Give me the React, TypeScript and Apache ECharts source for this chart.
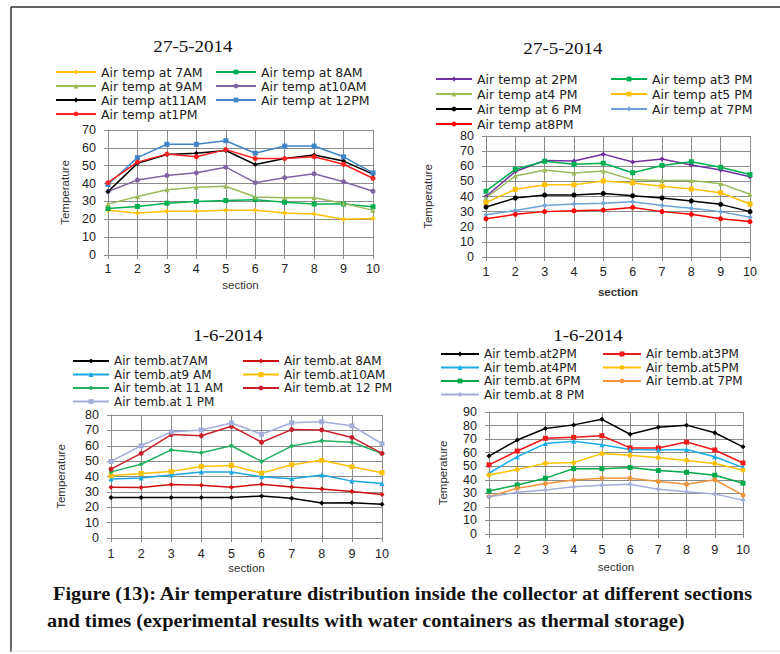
import React, { useEffect, useRef } from "react";
import * as echarts from "echarts";

const sections = ["1", "2", "3", "4", "5", "6", "7", "8", "9", "10"];

// 27-5-2014 morning
const m27_7am = [25, 23.5, 24.5, 24.5, 25, 25, 23.5, 23, 20, 20.5];
const m27_8am = [26, 27.2, 29, 30, 30.5, 31, 29.5, 28.5, 28.5, 27];
const m27_9am = [28.5, 32.8, 36.5, 38, 38.5, 32.5, 32, 32, 29, 25];
const m27_10am = [35.5, 42, 44.5, 46, 49.2, 40.5, 43.3, 45.5, 41, 35.7];
const m27_11am = [35.5, 51.3, 56.3, 57, 58.5, 50.7, 54, 56, 52.6, 45.3];
const m27_12pm = [39.5, 54.5, 62, 62, 64, 57, 61, 61, 55, 46];
const m27_1pm = [40.5, 52, 56.5, 55, 59, 54, 54, 55, 50.8, 43];

// 27-5-2014 afternoon
const a27_2pm = [40, 56.5, 63.8, 63.5, 68, 62.8, 64.8, 60.8, 57.5, 53];
const a27_3pm = [43.5, 58, 63.3, 61.3, 62, 55.7, 60.5, 63, 59.3, 54.5];
const a27_4pm = [39, 53.5, 57.5, 55.5, 56.8, 51, 50.5, 50.5, 48.5, 41.5];
const a27_5pm = [36, 44.7, 47.8, 47.8, 50.3, 49, 46.8, 45, 42.5, 35];
const a27_6pm = [33, 39, 41, 41, 42, 40.5, 39, 37, 34.8, 30];
const a27_7pm = [28, 30.7, 34, 35, 35.5, 36.5, 34, 32.3, 30, 26.3];
const a27_8pm = [25.3, 28.2, 30, 30.6, 31, 32.8, 30, 28.2, 25.3, 23.4];

// 1-6-2014 morning
const m01_7am = [26.3, 26.3, 26.3, 26.3, 26.3, 27.3, 25.8, 22.8, 22.9, 22];
const m01_8am = [33, 32.8, 34.8, 34.3, 33, 35, 33.2, 31.8, 30.3, 28.3];
const m01_9am = [38.3, 39, 41, 43, 43, 39.8, 38.5, 41, 37, 35.5];
const m01_10am = [40.5, 42, 43.2, 46.5, 47.2, 42.2, 47.7, 50.5, 46.3, 42.5];
const m01_11am = [43, 48, 57.3, 55.5, 60, 49.8, 59.8, 63.3, 62.3, 55];
const m01_12pm = [44.8, 55, 67.3, 66.5, 72.7, 62.3, 70.5, 70.3, 65.4, 55];
const m01_1pm = [49.8, 60, 69, 70.3, 74.8, 67.5, 75, 75.6, 73, 61.3];

// 1-6-2014 afternoon
const a01_2pm = [57.5, 69.3, 77.8, 80.5, 84.6, 73.6, 78.8, 80.3, 74.7, 64.3];
const a01_3pm = [51, 61.2, 70.6, 71.3, 72.5, 63.5, 63.5, 67.8, 62, 52.4];
const a01_4pm = [44.8, 57, 66.7, 68.4, 65.9, 62.4, 62, 62.4, 57, 49];
const a01_5pm = [43.5, 47.5, 52.2, 52.7, 59.3, 58.1, 56.3, 54.3, 52, 47.1];
const a01_6pm = [31.7, 36.2, 41.2, 48.2, 48.2, 49, 46.8, 45.5, 43.4, 37.5];
const a01_7pm = [27.6, 33.7, 37.2, 39.8, 41.2, 41.2, 38.7, 36.7, 40, 28.7];
const a01_8pm = [27.5, 30.8, 32.4, 34.8, 36, 36.7, 33, 31.2, 29.5, 25];

const titles = ["27-5-2014", "27-5-2014", "1-6-2014", "1-6-2014"];
const yMaxes = [70, 80, 80, 90];
const captionLines = [
  "Figure (13): Air temperature distribution inside the collector at different sections",
  "and times (experimental results with water containers as thermal storage)",
];

type S = { name: string; data: number[]; color: string; symbol: string; col: number };

const chartSeries: S[][] = [
  [
    { name: "Air temp at 7AM", data: m27_7am, color: "#FFC000", symbol: "diamond", col: 0 },
    { name: "Air temp at 8AM", data: m27_8am, color: "#00B050", symbol: "rect", col: 1 },
    { name: "Air temp at 9AM", data: m27_9am, color: "#9BBB59", symbol: "triangle", col: 0 },
    { name: "Air temp at10AM", data: m27_10am, color: "#8064A2", symbol: "circle", col: 1 },
    { name: "Air temp at11AM", data: m27_11am, color: "#000000", symbol: "diamond", col: 0 },
    { name: "Air temp at 12PM", data: m27_12pm, color: "#3F86C8", symbol: "rect", col: 1 },
    { name: "Air temp at1PM", data: m27_1pm, color: "#FF2020", symbol: "circle", col: 0 },
  ],
  [
    { name: "Air temp at 2PM", data: a27_2pm, color: "#7030A0", symbol: "diamond", col: 0 },
    { name: "Air temp at3 PM", data: a27_3pm, color: "#00B050", symbol: "rect", col: 1 },
    { name: "Air temp at4 PM", data: a27_4pm, color: "#9BBB59", symbol: "triangle", col: 0 },
    { name: "Air temp at5 PM", data: a27_5pm, color: "#FFC000", symbol: "rect", col: 1 },
    { name: "Air temp at 6 PM", data: a27_6pm, color: "#000000", symbol: "circle", col: 0 },
    { name: "Air temp at 7PM", data: a27_7pm, color: "#6FA3D8", symbol: "diamond", col: 1 },
    { name: "Air temp at8PM", data: a27_8pm, color: "#FF0000", symbol: "circle", col: 0 },
  ],
  [
    { name: "Air temb.at7AM", data: m01_7am, color: "#000000", symbol: "diamond", col: 0 },
    { name: "Air temb.at 8AM", data: m01_8am, color: "#D01010", symbol: "diamond", col: 1 },
    { name: "Air temb.at9 AM", data: m01_9am, color: "#1AA6E0", symbol: "triangle", col: 0 },
    { name: "Air temb.at10AM", data: m01_10am, color: "#FFC000", symbol: "rect", col: 1 },
    { name: "Air temb.at 11 AM", data: m01_11am, color: "#20B060", symbol: "diamond", col: 0 },
    { name: "Air temb.at 12 PM", data: m01_12pm, color: "#C8202A", symbol: "circle", col: 1 },
    { name: "Air temb.at 1 PM", data: m01_1pm, color: "#A3AEDA", symbol: "rect", col: 0 },
  ],
  [
    { name: "Air temb.at2PM", data: a01_2pm, color: "#000000", symbol: "diamond", col: 0 },
    { name: "Air temb.at3PM", data: a01_3pm, color: "#F01818", symbol: "rect", col: 1 },
    { name: "Air temb.at4PM", data: a01_4pm, color: "#1AAEEA", symbol: "triangle", col: 0 },
    { name: "Air temb.at5PM", data: a01_5pm, color: "#FFC000", symbol: "circle", col: 1 },
    { name: "Air temb.at 6PM", data: a01_6pm, color: "#00A84A", symbol: "rect", col: 0 },
    { name: "Air temb.at 7PM", data: a01_7pm, color: "#F0943C", symbol: "circle", col: 1 },
    { name: "Air temb.at 8 PM", data: a01_8pm, color: "#A3AEDA", symbol: "diamond", col: 0 },
  ],
];

// layout of each panel
const grids = [
  { left: 108, top: 130, width: 265, height: 125 },
  { left: 486, top: 136, width: 264, height: 121 },
  { left: 111, top: 415, width: 271, height: 123 },
  { left: 489, top: 412, width: 254, height: 122 },
];
const titlePos = [
  { x: 193, y: 46 },
  { x: 563, y: 48 },
  { x: 228, y: 335 },
  { x: 588, y: 335 },
];
const legendPos = [
  { l0: 55, l1: 215, top: 65, lh: 14, w: 40, fs: 12.5 },
  { l0: 435, l1: 610, top: 71.5, lh: 15, w: 36, fs: 12.5 },
  { l0: 72, l1: 242, top: 354.25, lh: 13.5, w: 36, fs: 12 },
  { l0: 440, l1: 602, top: 347.25, lh: 13.5, w: 38, fs: 12 },
];
const yNameGap = [37, 52, 44, 40];
const xNameGap = [24, 29, 24, 27];
const xLabelMargin = [7, 8, 9, 9];

export default function App() {
  const ref = useRef<HTMLDivElement>(null);
  useEffect(() => {
    if (!ref.current) return;
    const chart = echarts.init(ref.current, undefined, { renderer: "svg" });
    const gridColor = "#8C8C8C";
    const sans = "Liberation Sans";
    const option: any = {
      animation: false,
      backgroundColor: "#ffffff",
      grid: grids.map((g) => ({ ...g, containLabel: false })),
      xAxis: grids.map((_, i) => ({
        type: "category",
        gridIndex: i,
        data: sections,
        boundaryGap: false,
        name: "section",
        nameLocation: "middle",
        nameGap: xNameGap[i],
        nameTextStyle: {
          fontFamily: sans,
          fontSize: 11.5,
          color: "#333",
          fontWeight: i === 1 ? "bold" : "normal",
        },
        axisLine: { show: true, lineStyle: { color: gridColor } },
        axisTick: { show: true, length: 4, lineStyle: { color: gridColor } },
        axisLabel: { margin: xLabelMargin[i], fontFamily: sans, fontSize: 12.5, color: "#222" },
        splitLine: { show: true, lineStyle: { color: gridColor, width: 1 } },
      })),
      yAxis: grids.map((_, i) => ({
        type: "value",
        gridIndex: i,
        min: 0,
        max: yMaxes[i],
        interval: 10,
        name: "Temperature",
        nameLocation: "middle",
        nameGap: yNameGap[i],
        nameTextStyle: { fontFamily: sans, fontSize: 11.5, color: "#333" },
        axisLine: { show: true, lineStyle: { color: gridColor } },
        axisTick: { show: true, length: 4, lineStyle: { color: gridColor } },
        axisLabel: { margin: 12, fontFamily: sans, fontSize: 12.5, color: "#222" },
        splitLine: { show: true, lineStyle: { color: gridColor, width: 1 } },
      })),
      legend: legendPos.flatMap((lp, i) =>
        [0, 1].map((c) => ({
          orient: "vertical",
          left: c === 0 ? lp.l0 : lp.l1,
          top: lp.top,
          itemGap: 0,
          itemWidth: lp.w,
          itemHeight: 6,
          padding: 0,
          selectedMode: false,
          data: chartSeries[i].filter((s) => s.col === c).map((s) => s.name),
          textStyle: { fontFamily: "DejaVu Sans", fontSize: lp.fs, color: "#222", lineHeight: lp.lh },
        }))
      ),
      series: chartSeries.flatMap((list, i) =>
        list.map((s) => ({
          type: "line",
          name: s.name,
          data: s.data,
          xAxisIndex: i,
          yAxisIndex: i,
          symbol: s.symbol,
          symbolSize: 5,
          showSymbol: true,
          color: s.color,
          itemStyle: { color: s.color },
          lineStyle: { width: 1.5, color: s.color },
        }))
      ),
      graphic: [
        {
          type: "line",
          shape: { x1: 11, y1: 7, x2: 780, y2: 7 },
          style: { stroke: "#333", lineWidth: 1.5 },
        },
        {
          type: "line",
          shape: { x1: 11, y1: 7, x2: 11, y2: 652 },
          style: { stroke: "#333", lineWidth: 1.5 },
        },
        {
          type: "line",
          shape: { x1: 11, y1: 651, x2: 780, y2: 651 },
          style: { stroke: "#e4e4e4", lineWidth: 1 },
        },
        ...titles.map((t, i) => ({
          type: "text",
          x: titlePos[i].x,
          y: titlePos[i].y,
          scaleX: 1.12,
          style: {
            text: t,
            font: "17px 'Liberation Serif'",
            fill: "#111",
            textAlign: "center",
            textVerticalAlign: "middle",
          },
        })),
        {
          type: "text",
          x: 53,
          y: 594,
          scaleX: 1.13,
          style: {
            text: captionLines[0],
            font: "bold 18px 'Liberation Serif'",
            fill: "#111",
            textAlign: "left",
            textVerticalAlign: "middle",
          },
        },
        {
          type: "text",
          x: 47,
          y: 621,
          scaleX: 1.13,
          style: {
            text: captionLines[1],
            font: "bold 18px 'Liberation Serif'",
            fill: "#111",
            textAlign: "left",
            textVerticalAlign: "middle",
          },
        },
      ],
    };
    chart.setOption(option);
    return () => chart.dispose();
  }, []);
  return (
    <div
      ref={ref}
      style={{ position: "fixed", left: 0, top: 0, width: 780, height: 654, background: "#fff" }}
    />
  );
}
